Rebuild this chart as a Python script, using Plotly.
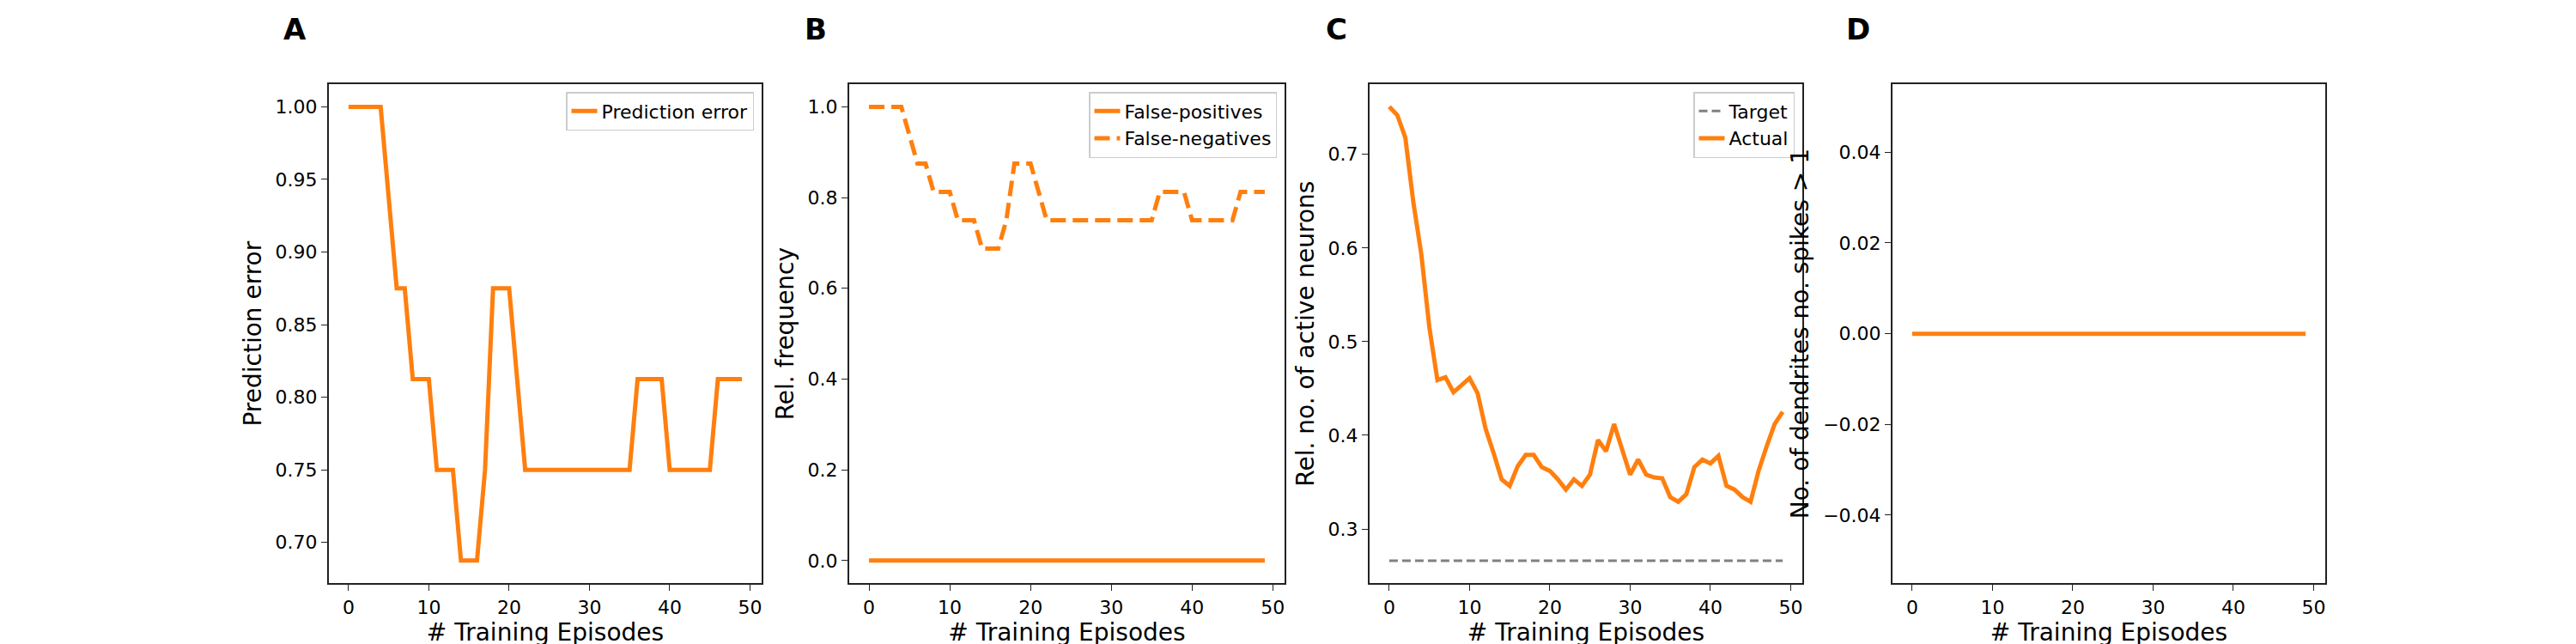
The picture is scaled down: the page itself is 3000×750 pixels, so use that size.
import plotly.graph_objs as go

episodes = list(range(50))

# Panel A / B: prediction error and false negatives (multiples of 1/16)
pred_error = [1.0, 1.0, 1.0, 1.0, 1.0, 0.9375, 0.875, 0.875, 0.8125, 0.8125,
              0.8125, 0.75, 0.75, 0.75, 0.6875, 0.6875, 0.6875, 0.75, 0.875, 0.875,
              0.875, 0.8125, 0.75, 0.75, 0.75, 0.75, 0.75, 0.75, 0.75, 0.75,
              0.75, 0.75, 0.75, 0.75, 0.75, 0.75, 0.8125, 0.8125, 0.8125, 0.8125,
              0.75, 0.75, 0.75, 0.75, 0.75, 0.75, 0.8125, 0.8125, 0.8125, 0.8125]
false_pos = [0.0] * 50
false_neg = list(pred_error)

# Panel C: relative number of active neurons
target = [0.266] * 50
actual = [0.751, 0.742, 0.718, 0.649, 0.593, 0.515, 0.459, 0.462, 0.446, 0.453,
          0.461, 0.445, 0.407, 0.381, 0.353, 0.346, 0.367, 0.379, 0.379, 0.366,
          0.362, 0.353, 0.342, 0.353, 0.346, 0.358, 0.395, 0.383, 0.412, 0.385,
          0.358, 0.374, 0.358, 0.355, 0.354, 0.334, 0.329, 0.337, 0.366, 0.374,
          0.370, 0.378, 0.346, 0.342, 0.334, 0.329, 0.362, 0.388, 0.412, 0.425]

# Panel D: dendrites with more than one spike
dendrites = [0.0] * 50

ORANGE = "#ff7f0e"
FONT = "DejaVu Sans"
domains = [(0.125, 0.293), (0.327, 0.496), (0.529, 0.697), (0.732, 0.900)]
ydom = (0.105, 0.88)

fig = go.Figure()

fig.add_trace(go.Scatter(x=episodes, y=pred_error, mode="lines", name="Prediction error",
                         line=dict(color=ORANGE, width=5), xaxis="x", yaxis="y", legend="legend"))
fig.add_trace(go.Scatter(x=episodes, y=false_pos, mode="lines", name="False-positives",
                         line=dict(color=ORANGE, width=5), xaxis="x2", yaxis="y2", legend="legend2"))
fig.add_trace(go.Scatter(x=episodes, y=false_neg, mode="lines", name="False-negatives",
                         line=dict(color=ORANGE, width=5, dash="18px,8px"), xaxis="x2", yaxis="y2",
                         legend="legend2"))
fig.add_trace(go.Scatter(x=episodes, y=target, mode="lines", name="Target",
                         line=dict(color="gray", width=3, dash="10px,5px"), xaxis="x3", yaxis="y3",
                         legend="legend3"))
fig.add_trace(go.Scatter(x=episodes, y=actual, mode="lines", name="Actual",
                         line=dict(color=ORANGE, width=5), xaxis="x3", yaxis="y3", legend="legend3"))
fig.add_trace(go.Scatter(x=episodes, y=dendrites, mode="lines", name="dendrites", showlegend=False,
                         line=dict(color=ORANGE, width=5), xaxis="x4", yaxis="y4"))

axis_style = dict(showline=True, linecolor="#222222", linewidth=2, mirror=True,
                  ticks="outside", ticklen=7, tickcolor="#222222", showgrid=False,
                  zeroline=False, tickfont=dict(size=22, family=FONT, color="black"))

yranges = [(0.6719, 1.0156), (-0.05, 1.05), (0.242, 0.775), (-0.055, 0.055)]
ytitles = ["Prediction error", "Rel. frequency", "Rel. no. of active neurons",
           "No. of dendrites no. spikes > 1"]
yticks = [dict(tickvals=[0.70, 0.75, 0.80, 0.85, 0.90, 0.95, 1.00], tickformat=".2f"),
          dict(tickvals=[0.0, 0.2, 0.4, 0.6, 0.8, 1.0], tickformat=".1f"),
          dict(tickvals=[0.3, 0.4, 0.5, 0.6, 0.7], tickformat=".1f"),
          dict(tickvals=[-0.04, -0.02, 0.0, 0.02, 0.04], tickformat=".2f")]
letters = ["A", "B", "C", "D"]

layout = dict(width=3000, height=750, plot_bgcolor="white", paper_bgcolor="white",
              margin=dict(l=0, r=0, t=0, b=0), font=dict(family=FONT, color="black"))
annotations = []
for i, (d, yr, yt, tk, letter) in enumerate(zip(domains, yranges, ytitles, yticks, letters)):
    suffix = "" if i == 0 else str(i + 1)
    layout["xaxis" + suffix] = dict(axis_style, domain=list(d), range=[-2.45, 51.45],
                                    tickvals=[0, 10, 20, 30, 40, 50],
                                    anchor="y" + suffix,
                                    title=dict(text="# Training Episodes",
                                               font=dict(size=28, family=FONT), standoff=6))
    layout["yaxis" + suffix] = dict(axis_style, domain=list(ydom), range=list(yr),
                                    anchor="x" + suffix,
                                    title=dict(text=yt, font=dict(size=28, family=FONT), standoff=8),
                                    **tk)
    annotations.append(dict(text="<b>" + letter + "</b>", x=d[0] - 0.008, y=0.965,
                            xref="paper", yref="paper", showarrow=False,
                            font=dict(size=34, family=FONT), xanchor="right", yanchor="middle"))
    if i < 3:
        layout["legend" + suffix] = dict(x=d[1] - 0.003, y=ydom[1] - 0.012, xanchor="right",
                                         yanchor="top", bordercolor="#cccccc", borderwidth=1.5,
                                         bgcolor="rgba(255,255,255,0.8)",
                                         font=dict(size=22, family=FONT))

layout["annotations"] = annotations
fig.update_layout(**layout)

fig.write_html("out.html")
